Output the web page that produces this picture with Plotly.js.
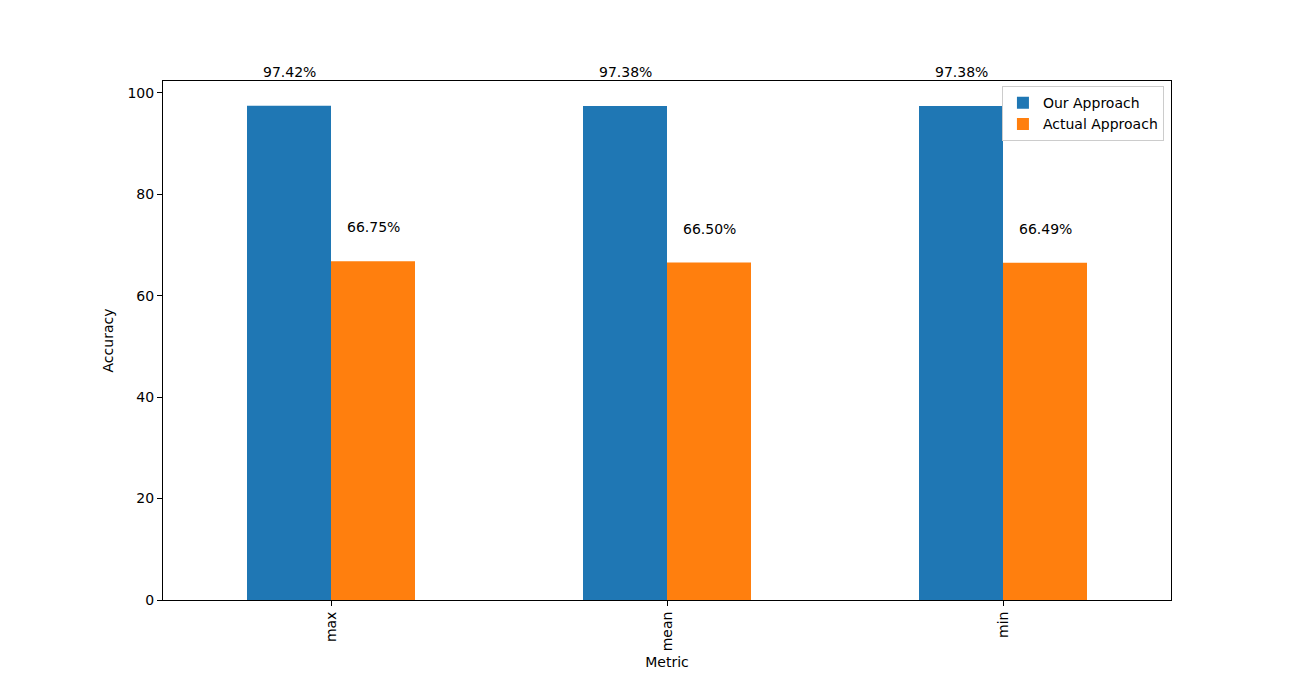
<!DOCTYPE html>
<html>
<head>
<meta charset="utf-8">
<script src="https://cdn.plot.ly/plotly-3.0.1.min.js"></script>
<style>html,body{margin:0;padding:0;background:#fff;}#chart{width:1301px;height:674px;}</style>
</head>
<body>
<div id="chart"></div>
<script>
const categories = ["max", "mean", "min"];
const ourApproach = [97.42, 97.38, 97.38];
const actualApproach = [66.75, 66.50, 66.49];
const seriesNames = ["Our Approach", "Actual Approach"];

const font = {family: "DejaVu Sans, sans-serif", size: 14, color: "#000"};

const traces = [
  {type: "bar", x: categories, y: ourApproach, name: seriesNames[0], marker: {color: "#1f77b4"}, hoverinfo: "none"},
  {type: "bar", x: categories, y: actualApproach, name: seriesNames[1], marker: {color: "#ff7f0e"}, hoverinfo: "none"}
];

const annotations = [];
[ourApproach, actualApproach].forEach((vals, s) => {
  vals.forEach((v, i) => {
    annotations.push({
      xref: "x", yref: "y", x: i + (s === 0 ? -0.125 : 0.125), y: v,
      text: v.toFixed(2) + "%", showarrow: false, yanchor: "middle", yshift: 34,
      font: font
    });
  });
});

const layout = {
  width: 1301, height: 674,
  margin: {l: 163, r: 130, t: 81, b: 74},
  paper_bgcolor: "#fff", plot_bgcolor: "#fff",
  font: font,
  barmode: "group", bargap: 0.5, bargroupgap: 0,
  showlegend: true,
  legend: {x: 0.993, y: 0.99, xanchor: "right", yanchor: "top", bgcolor: "rgba(255,255,255,0.8)",
           bordercolor: "#cccccc", borderwidth: 1, font: font, tracegroupgap: 0, itemwidth: 30},
  xaxis: {
    type: "category", range: [-0.5, 2.5], showgrid: false, zeroline: false,
    showline: true, linecolor: "#000", linewidth: 1, mirror: true,
    ticks: "outside", ticklen: 5, tickcolor: "#000", tickangle: -90, tickfont: font,
    title: {text: "Metric", font: font, standoff: 6}
  },
  yaxis: {
    range: [0, 102.3], showgrid: false, zeroline: false,
    showline: true, linecolor: "#000", linewidth: 1, mirror: true,
    ticks: "outside", ticklen: 5, tickcolor: "#000", tickvals: [0, 20, 40, 60, 80, 100], tickfont: font,
    title: {text: "Accuracy", font: font, standoff: 10}
  },
  annotations: annotations
};

Plotly.newPlot("chart", traces, layout, {displayModeBar: false, staticPlot: true});
</script>
</body>
</html>
